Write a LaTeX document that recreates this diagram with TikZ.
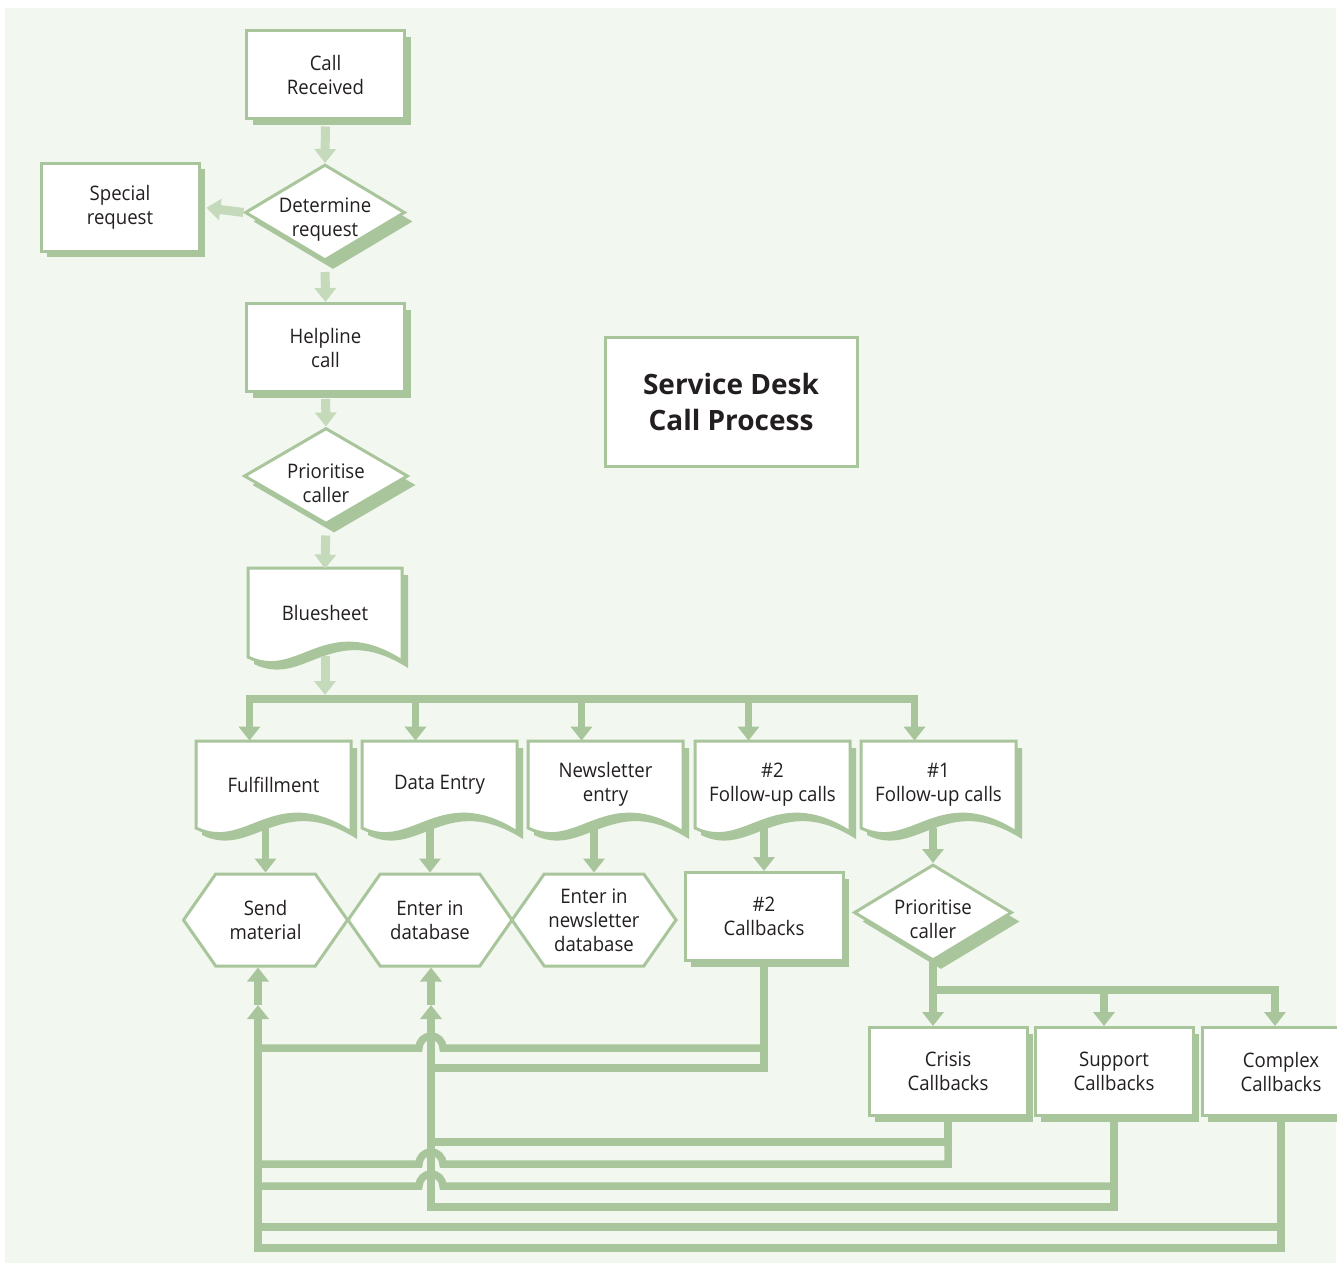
\documentclass[tikz,border=0pt]{standalone}
\usepackage{fontspec}
\setmainfont{Open Sans}[FakeStretch=0.93]
\newfontfamily\deskheading{Open Sans}
\usetikzlibrary{arrows.meta,shapes.geometric,shapes.symbols,shadows}

\definecolor{deskbg}{HTML}{F2F7F0}
\definecolor{deskline}{HTML}{A9C59B}
\definecolor{desklight}{HTML}{C5DABB}
\definecolor{deskink}{HTML}{231F20}

% outline of a sheet with a wavy lower edge: left, top, width, height
\newcommand\docpath[4]{(#1,#2) -- (#1+#3,#2) -- (#1+#3,#2+#4+4)
  .. controls (#1+0.5*#3,#2+#4-45) and (#1+0.33*#3,#2+#4+25) .. (#1,#2+#4) -- cycle}
\newcommand\docsheet[4]{%
  \fill[deskline] \docpath{#1+6}{#2+7}{#3}{#4};
  \filldraw[draw=deskline, line width=1.5pt, fill=white] \docpath{#1}{#2}{#3}{#4};
}

\tikzset{
  every node/.style={font=\fontsize{10}{12}\selectfont, text=deskink, align=center},
  process/.style={draw=deskline, line width=1.5pt, fill=white,
    minimum width=79pt, minimum height=44pt, inner sep=0pt,
    general shadow={fill=deskline, shadow xshift=3pt, shadow yshift=-3pt}},
  decision/.style={diamond, aspect=1.7, draw=deskline, line width=1.5pt, fill=white,
    minimum width=80pt, minimum height=48pt, inner sep=0pt,
    general shadow={fill=deskline, shadow xshift=4pt, shadow yshift=-4.5pt},
    label={[yshift=-3.5pt]center:{#1}}},
  action/.style={signal, signal to=west and east, signal pointer angle=110,
    draw=deskline, line width=1.5pt, fill=white,
    minimum width=82pt, minimum height=46pt, inner sep=0pt},
  document/.style={minimum width=77.5pt, minimum height=43.5pt, inner sep=0pt},
  titlebox/.style={draw=deskline, line width=1.5pt, fill=white,
    minimum width=126pt, minimum height=64.5pt,
    font=\deskheading\fontsize{14}{18}\selectfont\bfseries},
  flow/.style={draw=desklight, line width=4.5pt, ->},
  feed/.style={draw=deskline, line width=3.75pt},
}

\begin{document}
\begin{tikzpicture}[x=0.5pt, y=-0.5pt, >={Triangle[width=10.5pt,length=7pt]}]
  \useasboundingbox (0,0) rectangle (1337,1263);
  \fill[white] (0,0) rectangle (1337,1263);
  \fill[deskbg] (5,8) rectangle (1336,1263);

  % intake column
  \node (callrec)  at (325.5,75)    [process] {Call\\Received};
  \node (special)  at (120,207)     [process] {Special\\request};
  \node (detreq)   at (325,212.5)   [decision={Determine\\request}] {};
  \node (helpline) at (325.5,347.5) [process] {Helpline\\call};
  \node (prio1)    at (326,476)     [decision={Prioritise\\caller}, minimum width=82pt] {};
  \docsheet{248}{568}{154}{89}
  \node (bluesheet) at (325,612.5) [document] {Bluesheet};

  \node (title) at (731,401.5) [titlebox] {Service Desk\\Call Process};

  % sheets fed from the bluesheet
  \foreach \sx in {196,362,528,695,861} {\docsheet{\sx}{741}{155}{87}}
  \node (fulfil)  at (273.5,784.5) [document] {Fulfillment};
  \node (dataent) at (439.5,784.5) [document] {Data Entry};
  \node (newsent) at (605.5,784.5) [document] {Newsletter\\entry};
  \node (follow2) at (772.5,784.5) [document] {\#2\\Follow-up calls};
  \node (follow1) at (938.5,784.5) [document] {\#1\\Follow-up calls};

  \node (sendmat) at (265.5,920) [action] {Send\\material};
  \node (enterdb) at (430,920)   [action] {Enter in\\database};
  \node (newsdb)  at (594,920)   [action] {Enter in\\newsletter\\database};
  \node (cb2)     at (764,916.5) [process] {\#2\\Callbacks};
  \node (prio2)   at (933,912.5) [decision={Prioritise\\caller}, minimum width=79pt] {};

  \node (crisis)  at (948,1071.5)  [process] {Crisis\\Callbacks};
  \node (support) at (1114,1071.5) [process] {Support\\Callbacks};
  \node (complex) at (1281,1071.5) [process] {Complex\\Callbacks};

  \coordinate (fork)  at (325,699);
  \coordinate (split) at (933,990);
  \coordinate (upA)   at (258,1005);
  \coordinate (upB)   at (431,1005);
  \coordinate (footA) at (258,1248);
  \coordinate (footB) at (431,1207);

  % main chain
  \draw[flow, shorten <=3pt] (node cs:name=callrec,anchor=south) -- (node cs:name=detreq,anchor=north);
  \draw[flow, shorten >=3pt] (node cs:name=detreq,anchor=west) -- (node cs:name=special,anchor=east);
  \draw[flow, shorten <=5pt] (detreq.south) -- (helpline.north);
  \draw[flow, shorten <=3pt] (helpline.south) -- (prio1.north);
  \draw[flow, shorten <=5pt] (prio1.south) -- (bluesheet.north);
  \draw[flow, shorten >=2pt] (bluesheet.south) -- (fork);

  \foreach \n in {fulfil,dataent,newsent,follow2,follow1}
    \draw[feed, ->] (fork) -| ([xshift=-12pt]\n.north);

  \draw[feed, ->] (fulfil.south -| sendmat.north) -- (sendmat.north);
  \draw[feed, ->] (dataent.south -| enterdb.north) -- (enterdb.north);
  \draw[feed, ->] (newsent.south -| newsdb.north) -- (newsdb.north);
  \draw[feed, ->] (follow2.south -| cb2.north) -- (cb2.north);
  \draw[feed, ->] (follow1.south -| prio2.north) -- (prio2.north);

  \draw[feed, ->] (prio2.south) -- (prio2.south |- crisis.north);
  \draw[feed, ->] (split) -| ([xshift=-5pt]support.north);
  \draw[feed, ->] (split) -| ([xshift=-3pt]complex.north);

  % callbacks back to the mailing and database steps
  \draw[feed] (cb2.south) |- (431,1068);
  \draw[feed] (cb2.south) |- (443,1048) arc[start angle=0, end angle=180, radius=6pt] -- (258,1048);
  \draw[feed] (crisis.south) |- (431,1142);
  \draw[feed] (crisis.south) |- (443,1164) arc[start angle=0, end angle=180, radius=6pt] -- (258,1164);
  \draw[feed] (support.south) |- (443,1186) arc[start angle=0, end angle=180, radius=6pt] -- (258,1186);
  \draw[feed, ->] (support.south) |- (footB) -- (upB);
  \draw[feed] (complex.south) |- (258,1227);
  \draw[feed, ->] (complex.south) |- (footA) -- (upA);

  \draw[feed, ->] (upA) -- (upA |- sendmat.south);
  \draw[feed, ->] (upB) -- (upB |- enterdb.south);
\end{tikzpicture}
\end{document}
